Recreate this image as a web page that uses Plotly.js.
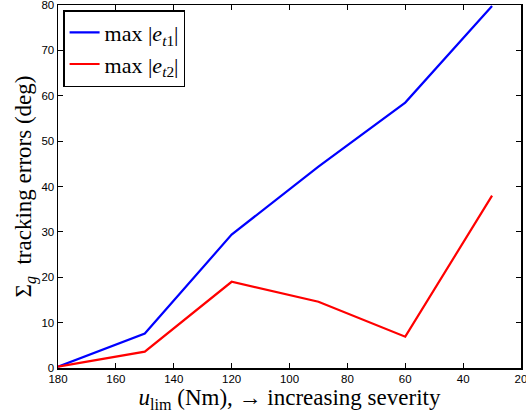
<!DOCTYPE html>
<html>
<head>
<meta charset="utf-8">
<script src="https://cdn.plot.ly/plotly-3.0.1.min.js"></script>
<style>
  html, body { margin: 0; padding: 0; background: #fff; }
  #chart { width: 526px; height: 419px; }
</style>
</head>
<body>
<div id="chart"></div>
<script>
// Torque limit (Nm)
const uLim = [180, 150, 120, 90, 60, 30];
// Peak tracking errors (deg)
const maxEt1 = [0.3, 7.6, 29.4, 44.4, 58.5, 79.8];
const maxEt2 = [0.3, 3.6, 19.0, 14.6, 6.9, 38.0];
const xTicks = [180, 160, 140, 120, 100, 80, 60, 40, 20];
const yTicks = [0, 10, 20, 30, 40, 50, 60, 70, 80];

const serif = 'Liberation Serif, Times New Roman, serif';
const sans = 'Liberation Sans, Arial, sans-serif';

const traces = [
  {
    x: uLim, y: maxEt1, type: 'scatter', mode: 'lines',
    name: 'max |<i>e</i><sub><i>t</i>1</sub>|',
    line: { color: '#0000ff', width: 2.2 }
  },
  {
    x: uLim, y: maxEt2, type: 'scatter', mode: 'lines',
    name: 'max |<i>e</i><sub><i>t</i>2</sub>|',
    line: { color: '#ff0000', width: 2.2 }
  }
];

const axisCommon = {
  showgrid: false, zeroline: false,
  showline: true, linecolor: '#000', linewidth: 1.5,
  mirror: 'ticks', ticks: 'inside', ticklen: 5, tickwidth: 1, tickcolor: '#000',
  ticklabeloverflow: 'allow',
  tickfont: { family: sans, size: 11.5, color: '#000' }
};

const layout = {
  width: 526, height: 419,
  margin: { l: 58, r: 5, t: 5, b: 51 },
  paper_bgcolor: '#fff', plot_bgcolor: '#fff',
  showlegend: true,
  legend: {
    x: 0.011, y: 0.986, xanchor: 'left', yanchor: 'top',
    bgcolor: '#fff', bordercolor: '#000', borderwidth: 1.5,
    font: { family: serif, size: 22, color: '#000' }
  },
  xaxis: Object.assign({}, axisCommon, {
    range: [180, 20], tickvals: xTicks, ticktext: xTicks.map(String),
    title: { text: '<i>u</i><sub>lim</sub> (Nm), → increasing severity',
             font: { family: serif, size: 23, color: '#000' }, standoff: 1 }
  }),
  yaxis: Object.assign({}, axisCommon, {
    range: [0, 80], tickvals: yTicks, ticktext: yTicks.map(String),
    title: { text: 'Σ<sub><i>g</i></sub>&nbsp;&nbsp;tracking errors (deg)',
             font: { family: serif, size: 23, color: '#000' }, standoff: 3 }
  })
};

Plotly.newPlot('chart', traces, layout, { displayModeBar: false, staticPlot: true });
</script>
</body>
</html>
